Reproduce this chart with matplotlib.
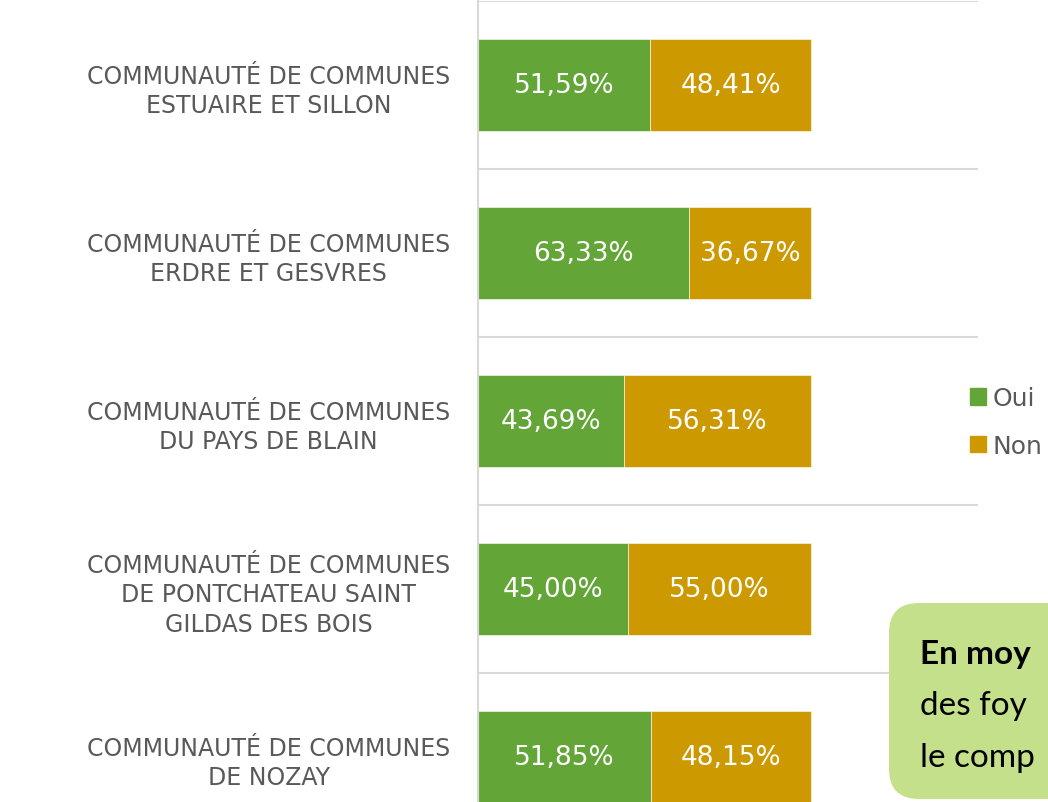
import numpy as np
import matplotlib.pyplot as plt
from matplotlib.patches import Patch, FancyBboxPatch

# data
categories = [
    "COMMUNAUTÉ DE COMMUNES\nESTUAIRE ET SILLON",
    "COMMUNAUTÉ DE COMMUNES\nERDRE ET GESVRES",
    "COMMUNAUTÉ DE COMMUNES\nDU PAYS DE BLAIN",
    "COMMUNAUTÉ DE COMMUNES\nDE PONTCHATEAU SAINT\nGILDAS DES BOIS",
    "COMMUNAUTÉ DE COMMUNES\nDE NOZAY",
]
oui = [51.59, 63.33, 43.69, 45.00, 51.85]
non = [48.41, 36.67, 56.31, 55.00, 48.15]
series_names = ["Oui", "Non"]
box_lines = ["En moy", "des foy", "le comp"]

GREEN = "#63A537"
GOLD = "#CC9900"
GRID = "#D9D9D9"
TEXT = "#595959"

fig = plt.figure(figsize=(10.48, 8.03), dpi=100)
ax = fig.add_axes([478 / 1048, -39 / 803, 500 / 1048, 840 / 803])

y = np.arange(len(categories))
h = 0.55
b1 = ax.barh(y, oui, height=h, color=GREEN, edgecolor="white", linewidth=0.4)
b2 = ax.barh(y, non, left=oui, height=h, color=GOLD, edgecolor="white", linewidth=0.4)

def fmt(v):
    return f"{v:.2f}%".replace(".", ",")

for bars, vals in ((b1, oui), (b2, non)):
    for rect, v in zip(bars, vals):
        ax.text(rect.get_x() + rect.get_width() / 2, rect.get_y() + rect.get_height() / 2,
                fmt(v), ha="center", va="center", color="white", fontsize=19)

ax.set_xlim(0, 150)
ax.set_ylim(len(categories) - 0.5, -0.5)
ax.set_xticks([])
ax.set_yticks(y)
ax.set_yticklabels(categories, fontsize=17, color=TEXT, linespacing=1.3)
for lab in ax.get_yticklabels():
    lab.set_multialignment("center")
ax.tick_params(axis="y", length=0, pad=20)

ax.set_yticks(np.arange(-0.5, len(categories), 1), minor=True)
ax.tick_params(axis="y", which="minor", length=0)
ax.grid(True, axis="y", which="minor", color=GRID, linewidth=1.5)
ax.set_axisbelow(True)
for s in ["top", "right", "bottom"]:
    ax.spines[s].set_visible(False)
ax.spines["left"].set_color(GRID)
ax.spines["left"].set_linewidth(1.5)

handles = [Patch(color=GREEN), Patch(color=GOLD)]
leg = fig.legend(handles, series_names, loc="upper left", bbox_to_anchor=(970 / 1048, 1 - 387 / 803),
                 frameon=False, fontsize=18, handlelength=0.65, handleheight=0.65,
                 handletextpad=0.25, labelspacing=0.95, borderpad=0, borderaxespad=0)
for t in leg.get_texts():
    t.set_color(TEXT)

# green comment box, cut by the right and bottom edges
box = FancyBboxPatch((8.89, 0.03), 3.0, 1.96, boxstyle="round,pad=0,rounding_size=0.3",
                     transform=fig.dpi_scale_trans, facecolor="#C5E08B", edgecolor="none", zorder=5)
fig.add_artist(box)
for i, (txt, yb) in enumerate(zip(box_lines, [1.39, 0.88, 0.36])):
    fig.text(9.20, yb, txt, transform=fig.dpi_scale_trans, fontsize=24, family="Lato",
             fontweight="bold" if i == 0 else "normal", color="black", va="baseline", zorder=6)

fig.savefig("out.png", dpi=100)
